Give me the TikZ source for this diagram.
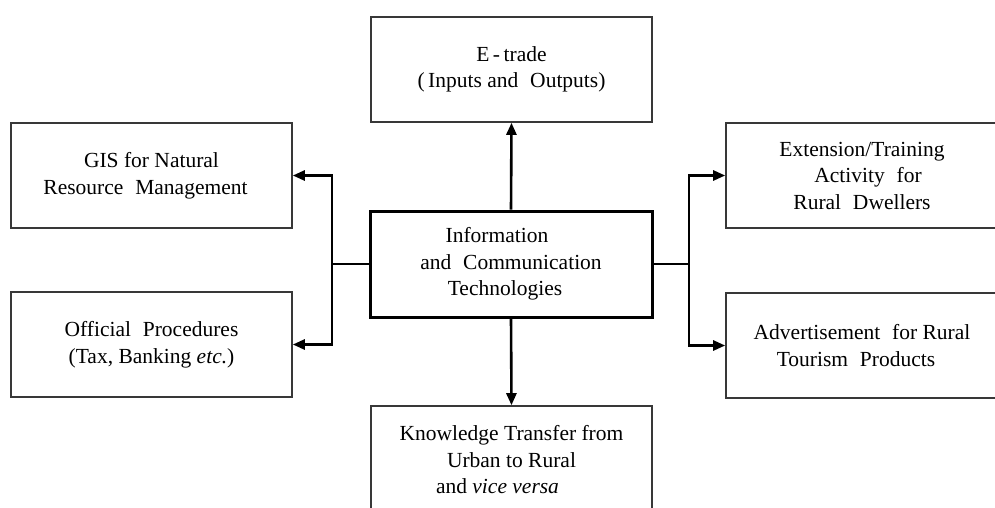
\documentclass[tikz,border=0pt]{standalone}
\usepackage{fontspec}
\setmainfont{Liberation Serif}
\usetikzlibrary{arrows.meta}
\newcommand\wsp{\hspace{0.3em}}
\tikzset{
  box/.style={draw=black!78, line width=1.6pt, rectangle, inner sep=0pt,
    minimum width=281pt, minimum height=105pt, align=center,
    font=\fontsize{21.5pt}{26.5pt}\selectfont},
  mainbox/.style={box, draw=black, line width=3pt, minimum width=282pt, minimum height=106pt},
  conn/.style={line width=2.6pt, black},
  arr/.style={conn, -{Triangle[length=12pt,width=10pt]}}
}
\begin{document}
\begin{tikzpicture}[x=1pt,y=-1pt]
\useasboundingbox (0,0) rectangle (995,507);
\clip (0,0) rectangle (995,507);
\fill[white] (0,0) rectangle (995,507);
\node[mainbox] (ict) at (511,264) {Information\hspace*{28pt}\\ and\wsp{} Communication\hspace*{28pt}\\ Technologies\hspace*{12pt}};
\node[box] (et) at (511.5,69.5) {E\,-\,trade\\ (\,Inputs and\wsp{} Outputs)};
\node[box] (gis) at (151.5,175.5) {GIS for Natural\\ Resource\wsp{} Management\hspace*{12pt}};
\node[box] (off) at (151.5,344.5) {Official\wsp{} Procedures\\ (Tax, Banking \textit{etc.})};
\node[box, minimum width=272pt] (ext) at (862,175.5) {Extension/Training\\ \hspace*{12pt}Activity\wsp{} for\\ Rural\wsp{} Dwellers};
\node[box, minimum width=272pt] (adv) at (862,345.5) {Advertisement\wsp{} for Rural\\ Tourism\wsp{} Products\hspace*{12pt}};
\node[box, minimum height=108pt] (kt) at (511.5,460) {Knowledge Transfer from\\ Urban to Rural\hspace*{28pt}\\ and \textit{vice versa}\hspace*{28pt}};
\coordinate (lj) at (332,264);
\coordinate (rj) at (689,264);
\draw[conn] (ict.west) -- (lj);
\draw[conn] (ict.east) -- (rj);
\draw[arr] (lj) |- (gis.east);
\draw[arr] (lj) |- (off.east);
\draw[arr] (rj) |- (ext.west);
\draw[arr] (rj) |- (adv.west);
\draw[arr] (ict.north) -- (et.south);
\draw[arr] (ict.south) -- (kt.north);
\end{tikzpicture}
\end{document}
